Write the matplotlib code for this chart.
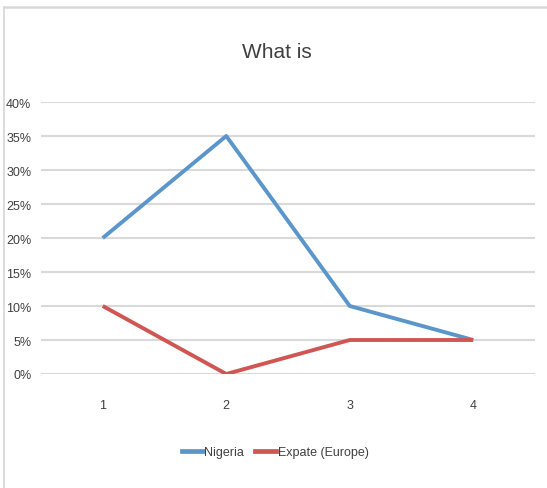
import matplotlib
matplotlib.use('Agg')
from matplotlib import pyplot as plt
from matplotlib.lines import Line2D
from matplotlib.ticker import FuncFormatter

plt.rcParams['font.family'] = ['Liberation Sans', 'DejaVu Sans']

categories = [1, 2, 3, 4]
nigeria = [0.20, 0.35, 0.10, 0.05]
expate = [0.10, 0.00, 0.05, 0.05]
series_names = ['Nigeria', 'Expate (Europe)']
y_ticks = [0.0, 0.05, 0.10, 0.15, 0.20, 0.25, 0.30, 0.35, 0.40]

BLUE = '#5b96cb'
RED = '#cf5652'
GRID = '#d9d9d9'
TEXT = '#404040'

fig = plt.figure(figsize=(5.47, 4.89), dpi=100)

# chart frame (top and left edges only)
fig.add_artist(Line2D([4 / 547, 4 / 547], [0, 1 - 8 / 489], color=GRID, lw=1.3,
                      transform=fig.transFigure))
fig.add_artist(Line2D([4 / 547, 1], [1 - 8 / 489, 1 - 8 / 489], color=GRID, lw=1.8,
                      transform=fig.transFigure))

ax = fig.add_axes([41 / 547, 1 - 375 / 489, 494 / 547, 272 / 489])
ax.plot(categories, nigeria, color=BLUE, lw=2.8, solid_capstyle='butt', zorder=3)
ax.plot(categories, expate, color=RED, lw=2.8, solid_capstyle='butt', zorder=3)

ax.set_xlim(0.5, 4.5)
ax.set_ylim(0, 0.4)
ax.set_xticks(categories)
ax.set_yticks(y_ticks)
ax.yaxis.set_major_formatter(FuncFormatter(lambda v, p: f'{round(v * 100)}%'))
ax.grid(axis='y', color=GRID, lw=1.5)
ax.set_axisbelow(True)
for s in ax.spines.values():
    s.set_visible(False)
ax.tick_params(axis='both', length=0, labelsize=9, colors=TEXT)
ax.tick_params(axis='y', pad=7)
ax.tick_params(axis='x', pad=18)

fig.text(277 / 547, 1 - 53 / 489, 'What is', ha='center', va='center',
         fontsize=15, color=TEXT)

handles = [Line2D([], [], color=BLUE, lw=3.4), Line2D([], [], color=RED, lw=3.4)]
fig.legend(handles, series_names, loc='center', bbox_to_anchor=(275 / 547, 1 - 453 / 489),
           ncol=2, frameon=False, fontsize=9, handlelength=1.7, handletextpad=0.1,
           columnspacing=0.9, labelcolor=TEXT)

fig.savefig('out.png', dpi=100)
